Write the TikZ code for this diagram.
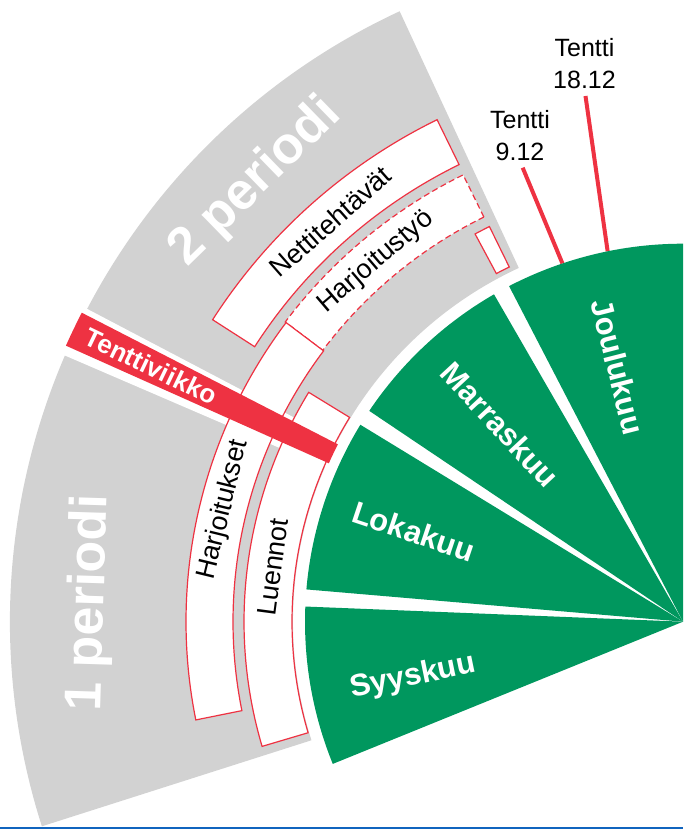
\documentclass[tikz,border=0pt]{standalone}
\usepackage{fontspec}
\setmainfont{Liberation Sans}
\definecolor{grn}{RGB}{0,151,94}
\definecolor{tred}{RGB}{238,50,66}
\definecolor{lgray}{RGB}{210,210,210}
\definecolor{bline}{RGB}{16,100,190}
\newcommand{\annsec}[5][]{\path[#1] (#2:#4pt) -- (#2:#5pt) arc[start angle=#2,end angle=#3,radius=#5pt] -- (#3:#4pt) arc[start angle=#3,end angle=#2,radius=#4pt] -- cycle;}
\newcommand{\wedgesec}[4][]{\path[#1] (0,0) -- (#2:#4pt) arc[start angle=#2,end angle=#3,radius=#4pt] -- cycle;}
\tikzset{
 box/.style={draw=tred,line width=1.2pt,fill=white},
 dbox/.style={box,dash pattern=on 6pt off 3.5pt},
 month/.style={fill=grn},
 mlbl/.style={text=white,font=\bfseries\fontsize{31}{36}\selectfont,inner sep=0pt},
 blbl/.style={text=black,font=\fontsize{27}{32}\selectfont,inner sep=0pt},
 plbl/.style={text=white,font=\bfseries\fontsize{52}{60}\selectfont,inner sep=0pt},
 wlbl/.style={text=white,font=\bfseries\fontsize{26}{30}\selectfont,inner sep=0pt},
 tlbl/.style={text=black,font=\fontsize{25}{32}\selectfont,align=center,inner sep=0pt,anchor=north},
 tline/.style={draw=tred,line width=4pt,shorten <=7pt},
}
\begin{document}
\begin{tikzpicture}[x=1pt,y=1pt]
\useasboundingbox (-683,-207.3) rectangle (0,621.7);
\clip (-683,-207.3) rectangle (0,621.7);
% blue base line
\fill[bline] (-683,-207.3) rectangle (0,-205);
% gray period band
\annsec[fill=lgray]{114.9}{197.7}{390}{673}
% white gap of the exam week
\annsec[fill=white]{152.3}{156.7}{380}{690}
% exam labels and lines
\node[tlbl] (t1) at (-163,511.2) {Tentti\\9.12};
\node[tlbl] (t2) at (-98.5,583.4) {Tentti\\18.12};
\coordinate (d1) at (108.6:378pt);
\coordinate (d2) at (101.5:378pt);
\draw[tline] (t1.south) -- (d1);
\draw[tline] (t2.south) -- (d2);
% month wedges
\wedgesec[month]{177.7}{202.1}{378}
\wedgesec[month]{148.6}{175.1}{378}
\wedgesec[month]{120.0}{146.1}{378}
\wedgesec[month]{85}{117.4}{378}
% activity boxes
\annsec[dbox]{116.2}{143}{451}{498}
\annsec[box]{143}{191.4}{450}{497}
\annsec[box]{148.5}{196.5}{391}{439}
\annsec[box]{116.1}{118.2}{395}{440}
\annsec[box]{116.1}{147.3}{509}{559}
% exam week bar
\annsec[fill=tred]{152.8}{155.9}{388}{676}
% labels
\node[plbl,rotate=44.2] (p2) at (134.2:613pt) {2 periodi};
\node[plbl,rotate=88.2] (p1) at (178.2:593pt) {1 periodi};
\node[blbl,rotate=41.4] (nett) at (131.4:533.5pt) {Nettitehtävät};
\node[blbl,rotate=40.5] (hty) at (130.5:473pt) {Harjoitustyö};
\node[blbl,rotate=76.3] (hjt) at (166.3:473pt) {Harjoitukset};
\node[blbl,rotate=82.4] (lue) at (172.4:414pt) {Luennot};
\node[wlbl,rotate=-25.7] (tvk) at (154.35:590pt) {Tenttiviikko};
\node[mlbl,rotate=11.6] (syys) at (191.6:275.6pt) {Syyskuu};
\node[mlbl,rotate=-18.5] (loka) at (161.5:283.7pt) {Lokakuu};
\node[mlbl,rotate=-47.1] (marr) at (132.9:268.7pt) {Marraskuu};
\node[mlbl,rotate=-75.7] (joul) at (104.3:263pt) {Joulukuu};
\end{tikzpicture}
\end{document}
